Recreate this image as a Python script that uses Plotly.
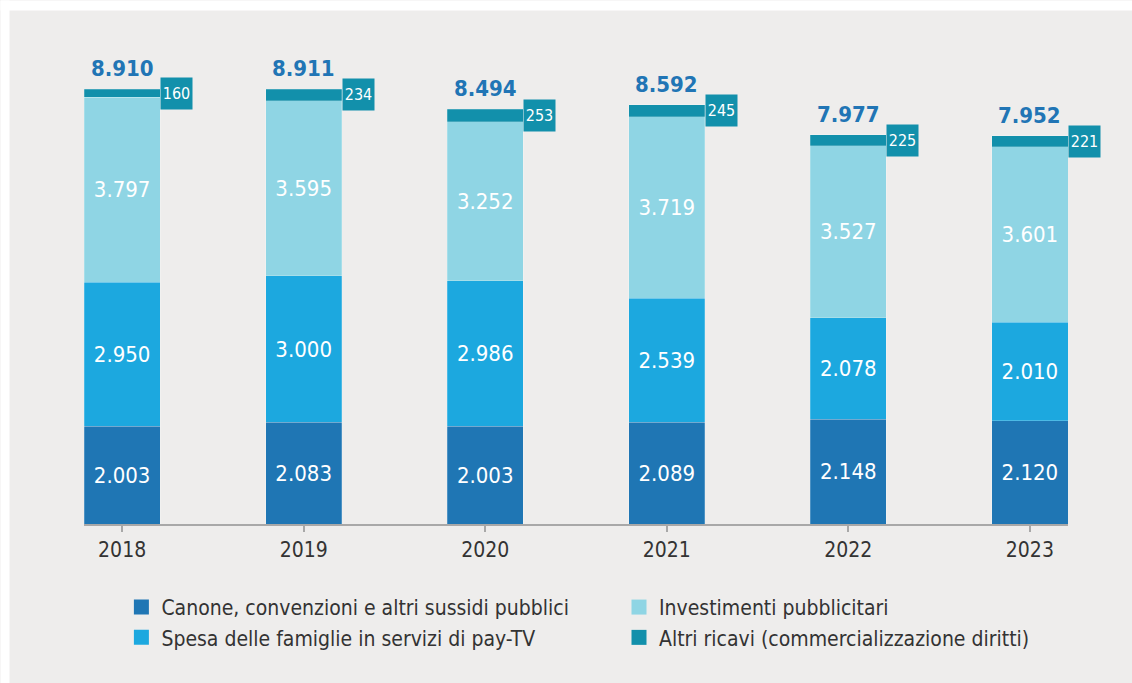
import plotly.graph_objects as go

# Ricavi del settore TV per fonte (milioni di euro)
years = ["2018", "2019", "2020", "2021", "2022", "2023"]
canone = [2003, 2083, 2003, 2089, 2148, 2120]
spesa = [2950, 3000, 2986, 2539, 2078, 2010]
investimenti = [3797, 3595, 3252, 3719, 3527, 3601]
altri = [160, 234, 253, 245, 225, 221]
totali = [8910, 8911, 8494, 8592, 7977, 7952]

series_names = [
    "Canone, convenzioni e altri sussidi pubblici",
    "Spesa delle famiglie in servizi di pay-TV",
    "Investimenti pubblicitari",
    "Altri ricavi (commercializzazione diritti)",
]
colors = ["#1f76b4", "#1ca8df", "#8fd5e4", "#1290ab"]
# legend column for each series: first two on the left, last two on the right
legend_ids = ["legend", "legend", "legend2", "legend2"]

FONT = "DejaVu Sans Condensed, Liberation Sans Narrow, Arial Narrow, sans-serif"
BAR_W = 0.42
BG = "#eeedec"

W, H = 1132, 683
ML, MR, MT, MB = 84, 64, 40, 159
PW, PH = W - ML - MR, H - MT - MB


def it_fmt(v):
    return f"{v:,.0f}".replace(",", ".")


def px_x(px):
    return (px - ML) / PW


def px_y(px):
    return (H - MB - px) / PH


x = list(range(len(years)))
fig = go.Figure()

stack = [canone, spesa, investimenti, altri]
for i, (vals, name, col) in enumerate(zip(stack, series_names, colors)):
    show_text = i < 3
    fig.add_trace(go.Bar(
        x=x, y=vals, name=name,
        width=BAR_W,
        marker=dict(color=col, line=dict(color="rgba(255,255,255,0.35)", width=0.6)),
        text=[it_fmt(v) for v in vals] if show_text else None,
        textposition="inside" if show_text else "none",
        insidetextanchor="middle",
        textangle=0,
        constraintext="none",
        textfont=dict(family=FONT, size=22, color="white"),
        showlegend=False,
        hoverinfo="skip",
    ))

# legend entries with larger square symbols
for name, col, lg in zip(series_names, colors, legend_ids):
    fig.add_trace(go.Scatter(
        x=[None], y=[None], mode="markers", name=name,
        marker=dict(symbol="square", size=15, color=col),
        legend=lg, showlegend=True,
    ))

annotations = []
for i in x:
    base = canone[i] + spesa[i] + investimenti[i]
    # value box for the thin top segment
    annotations.append(dict(
        x=i + BAR_W / 2, y=base + altri[i] / 2, xref="x", yref="y",
        text=str(altri[i]), showarrow=False, xanchor="left", yanchor="middle",
        bgcolor=colors[3], borderpad=2, width=27, height=27,
        font=dict(family=FONT, size=16, color="white"),
    ))
    # total above each column
    annotations.append(dict(
        x=i, y=totali[i], xref="x", yref="y",
        text="<b>" + it_fmt(totali[i]) + "</b>", showarrow=False,
        xanchor="center", yanchor="bottom", yshift=6,
        font=dict(family=FONT, size=22, color="#2175b5"),
    ))

# thin white strips along the top and left edges of the gray panel
annotations.append(dict(
    x=px_x(0), y=px_y(0), xref="paper", yref="paper",
    xanchor="left", yanchor="top", text="", showarrow=False,
    width=W, height=9, borderpad=0, bgcolor="white",
))
annotations.append(dict(
    x=px_x(0), y=px_y(0), xref="paper", yref="paper",
    xanchor="left", yanchor="top", text="", showarrow=False,
    width=8, height=H, borderpad=0, bgcolor="white",
))

legend_common = dict(
    orientation="v", xanchor="left", y=-0.13, yanchor="top",
    font=dict(family=FONT, size=21, color="#333333"),
    bgcolor="rgba(0,0,0,0)", traceorder="normal", itemwidth=30,
    tracegroupgap=0,
)

fig.update_layout(
    barmode="stack",
    width=W, height=H,
    margin=dict(l=ML, r=MR, t=MT, b=MB, autoexpand=False),
    paper_bgcolor=BG,
    plot_bgcolor="rgba(0,0,0,0)",
    font=dict(family=FONT, color="#333333"),
    annotations=annotations,
    showlegend=True,
    legend=dict(x=0.038, **legend_common),
    legend2=dict(x=0.5437, **legend_common),
)

fig.update_xaxes(
    range=[-BAR_W / 2, len(years) - 1 + BAR_W / 2],
    tickmode="array", tickvals=x, ticktext=years,
    showline=True, linecolor="#a8a8a8", linewidth=2,
    ticks="outside", ticklen=6, tickwidth=2, tickcolor="#a8a8a8",
    tickfont=dict(family=FONT, size=21, color="#333333"),
    showgrid=False, zeroline=False, fixedrange=True,
)
fig.update_yaxes(
    range=[0, 9918], visible=False, showgrid=False, zeroline=False, fixedrange=True,
)

fig.write_html("out.html")
